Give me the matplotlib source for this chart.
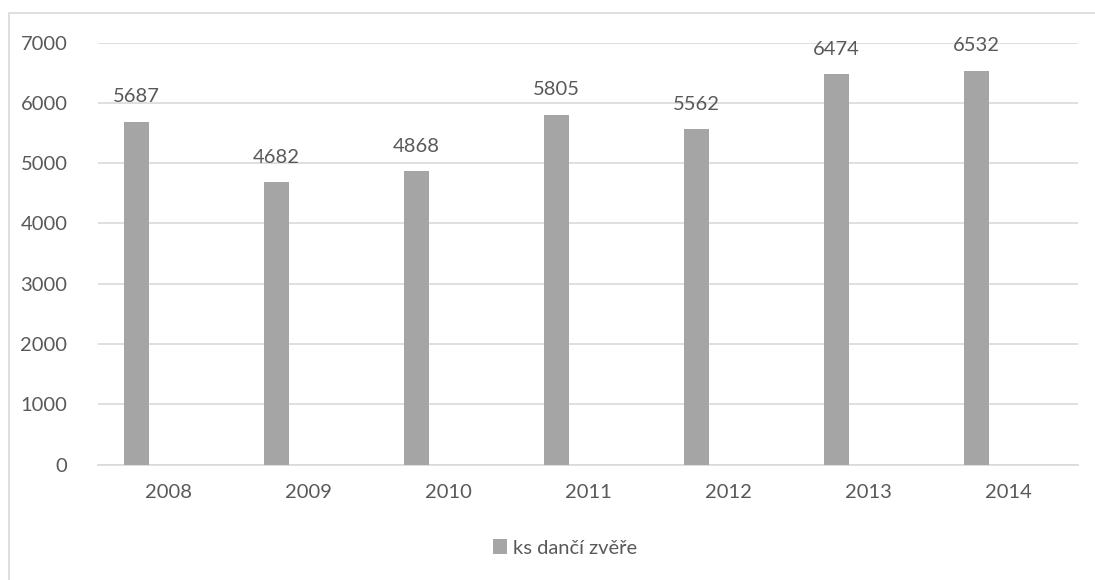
import matplotlib.pyplot as plt
from matplotlib.patches import Rectangle

years = ['2008', '2009', '2010', '2011', '2012', '2013', '2014']
counts = [5687, 4682, 4868, 5805, 5562, 6474, 6532]
series_name = 'ks dančí zvěře'

plt.rcParams['font.family'] = ['Lato', 'DejaVu Sans']
text_col = '#595959'
grid_col = '#d9d9d9'
bar_col = '#a5a5a5'

W, H = 1095, 580
fig = plt.figure(figsize=(W / 100, H / 100), dpi=100)
ax = fig.add_axes([98 / W, 1 - 464.5 / H, (1078 - 98) / W, (464.5 - 42.5) / H])

# chart frame (runs off the right and bottom edges)
fig.patches.append(Rectangle((9 / W, -0.2), 1.2, 1.2 - 13 / H, transform=fig.transFigure,
                             fill=False, edgecolor=grid_col, linewidth=1.2))

x = list(range(len(years)))
xb = [i - 0.225 for i in x]
bars = ax.bar(xb, counts, width=0.18, color=bar_col, label=series_name, zorder=3)

for xi, v in zip(xb, counts):
    ax.text(xi, v + 270, str(v), ha='center', va='bottom', fontsize=14.5, color=text_col)

ax.set_xlim(-0.5, len(years) - 0.5)
ax.set_ylim(0, 7000)
ax.set_yticks(range(0, 7001, 1000))
ax.set_xticks(x)
ax.set_xticklabels(years)
ax.yaxis.grid(True, color=grid_col, linewidth=1.2, zorder=0)
ax.tick_params(length=0, labelsize=14.5, labelcolor=text_col)
ax.tick_params(axis='y', pad=22)
ax.tick_params(axis='x', pad=14)
for s in ['top', 'right', 'left']:
    ax.spines[s].set_visible(False)
ax.spines['bottom'].set_color(grid_col)
ax.spines['bottom'].set_linewidth(1.2)

fig.legend(handles=[bars], labels=[series_name], loc='center', bbox_to_anchor=(565 / W, 1 - 548 / H),
           frameon=False, fontsize=14.5, labelcolor=text_col, handlelength=0.7, handleheight=0.7,
           handletextpad=0.3)

fig.savefig('out.png', dpi=100)
